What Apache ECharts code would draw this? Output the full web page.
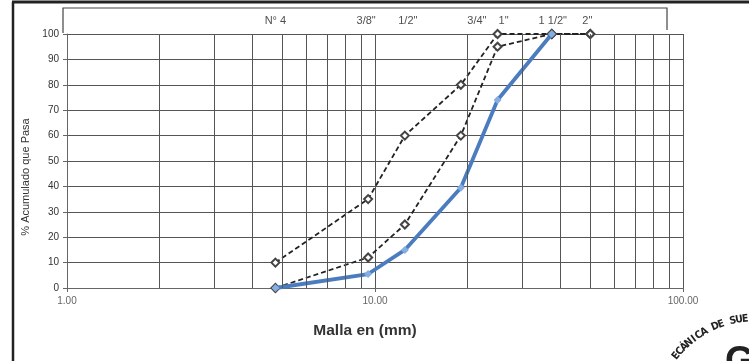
<!DOCTYPE html>
<html><head><meta charset="utf-8">
<script src="https://cdn.jsdelivr.net/npm/echarts@6/dist/echarts.min.js"></script>
<style>html,body{margin:0;padding:0;background:#fff}#c{width:749px;height:361px}</style>
</head><body><div id="c"></div>
<script>
// ---- data ----
const sieveLabels = ['N° 4', '3/8"', '1/2"', '3/4"', '1"', '1 1/2"', '2"'];
const sieveSizes  = [4.75, 9.5, 12.5, 19, 25, 37.5, 50];
const upperLimit  = [10, 35, 60, 80, 100, 100, 100];
const lowerLimit  = [0, 12, 25, 60, 95, 100, 100];
const sample      = [0, 5.5, 15, 39.5, 74, 100, null];
const xTickValues = [1, 10, 100];
const minorGridValues = [2, 3, 4, 5, 6, 7, 8, 9, 20, 30, 40, 50, 60, 70, 80, 90];
const yTicks = { min: 0, max: 100, step: 10 };

// ---- style-only (label nudges for readability) ----
const topLabelShift = [0, -2, 3, 16, 6, 1, -3];

const pair = arr => sieveSizes.map((s, i) => arr[i] == null ? null : [s, arr[i]]).filter(Boolean);

const chart = echarts.init(document.getElementById('c'), null, { renderer: 'canvas' });

const FONT = '"Liberation Sans", Arial, sans-serif';

// stamp text along arc (decoration)
const stampChars = 'ECÁNICA DE SUE'.split('');
const stamp = [];
const cx = 755, cy = 420, R = 96;
stampChars.forEach((ch, i) => {
  const deg = 219 + i * 3.5;
  const t = deg * Math.PI / 180;
  stamp.push({
    type: 'text', x: cx + R * Math.cos(t), y: cy + R * Math.sin(t),
    rotation: (270 - deg) * Math.PI / 180,
    style: { text: ch, fontSize: 10.5, fontWeight: 'bold', fontFamily: '"Liberation Sans Narrow", "DejaVu Sans Condensed", sans-serif', fill: '#222', align: 'center', verticalAlign: 'bottom' }
  });
});

chart.setOption({
  animation: false,
  backgroundColor: '#fff',
  grid: { left: 67, right: 66, top: 34, bottom: 73 },
  xAxis: {
    type: 'log', logBase: 10, min: 1, max: 100, interval: 1,
    name: 'Malla en (mm)', nameLocation: 'middle', nameGap: 35,
    nameTextStyle: { fontSize: 15.5, fontWeight: 'bold', fontFamily: FONT, color: '#333', padding: [0, 20, 0, 0] },
    axisLine: { show: true, lineStyle: { color: '#666', width: 1 } },
    axisTick: { show: true, length: 4, lineStyle: { color: '#666' } },
    axisLabel: {
      fontSize: 10, color: '#666', fontFamily: FONT, margin: 8,
      formatter: v => xTickValues.includes(Math.round(v)) ? Number(v).toFixed(2) : ''
    },
    splitLine: { show: true, lineStyle: { color: '#555', width: 1 } },
    minorTick: { show: false }, minorSplitLine: { show: false }
  },
  yAxis: {
    type: 'value', min: yTicks.min, max: yTicks.max, interval: yTicks.step,
    name: '% Acumulado que Pasa', nameLocation: 'middle', nameGap: 26,
    nameTextStyle: { fontSize: 11, fontFamily: FONT, color: '#333', padding: [0, 32, 0, 0] },
    axisLine: { show: true, lineStyle: { color: '#666' } },
    axisTick: { show: true, length: 4, lineStyle: { color: '#666' } },
    axisLabel: { fontSize: 10, color: '#333', fontFamily: FONT, margin: 8 },
    splitLine: { show: true, lineStyle: { color: '#555', width: 1 } }
  },
  series: [
    {
      name: 'minor', type: 'line', data: [], silent: true,
      markLine: {
        silent: true, symbol: 'none', label: { show: false },
        lineStyle: { color: '#555', width: 1, type: 'solid' },
        data: minorGridValues.map(v => ({ xAxis: v }))
      }
    },
    {
      name: 'Límite superior', type: 'line', data: pair(upperLimit),
      lineStyle: { color: '#222', width: 1.8, type: [5, 3] },
      symbol: 'emptyDiamond', symbolSize: 8,
      itemStyle: { color: '#444', borderColor: '#333', borderWidth: 1.2 }, z: 3
    },
    {
      name: 'Límite inferior', type: 'line', data: pair(lowerLimit),
      lineStyle: { color: '#222', width: 1.8, type: [5, 3] },
      symbol: 'emptyDiamond', symbolSize: 8,
      itemStyle: { color: '#444', borderColor: '#333', borderWidth: 1.2 }, z: 3
    },
    {
      name: 'Muestra', type: 'line', data: pair(sample),
      lineStyle: { color: '#4a7cbf', width: 3.8 },
      symbol: 'diamond', symbolSize: 8,
      itemStyle: { color: '#86aee0' }, z: 4
    },
    {
      name: 'tamices', type: 'scatter', silent: true, symbolSize: 0,
      data: sieveSizes.map((s, i) => ({
        value: [s, yTicks.max],
        label: { offset: [topLabelShift[i], 0] }
      })),
      label: {
        show: true, position: 'top', distance: 8,
        formatter: p => sieveLabels[p.dataIndex],
        fontSize: 11, color: '#222', fontFamily: FONT
      },
      clip: false, z: 5
    }
  ],
  graphic: [
    { type: 'polyline', shape: { points: [[63, 33], [63, 8], [667, 8], [667, 30]] }, style: { stroke: '#444', lineWidth: 1.2, fill: null } },
    { type: 'line', shape: { x1: 13, y1: 2, x2: 13, y2: 361 }, style: { stroke: '#222', lineWidth: 2.5 } },
    { type: 'line', shape: { x1: 12, y1: 2, x2: 749, y2: 2 }, style: { stroke: '#222', lineWidth: 3 } },
    { type: 'text', x: 725, y: 344, style: { text: 'G', fontSize: 38, fontWeight: 'bold', fontFamily: FONT, fill: '#222' } },
    ...stamp
  ]
});
</script></body></html>
